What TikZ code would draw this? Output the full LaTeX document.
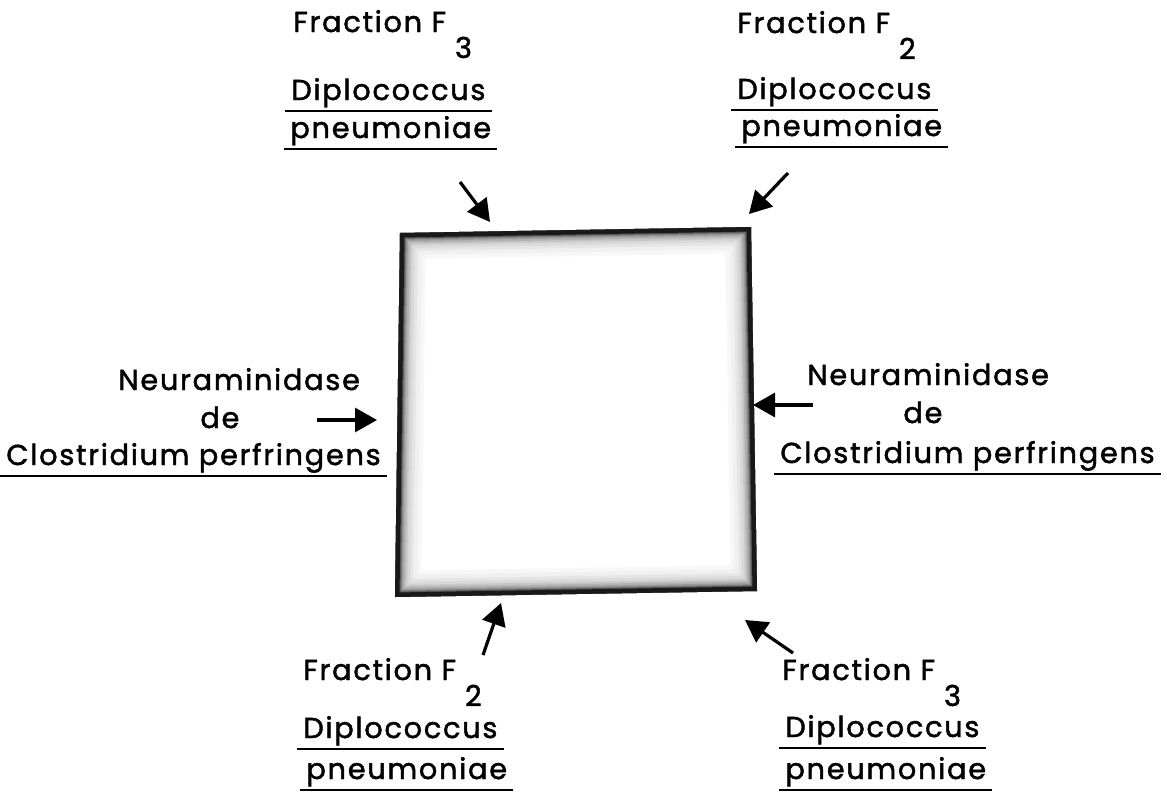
\documentclass[tikz,border=0pt]{standalone}
\usepackage{fontspec}
\setmainfont[LetterSpace=6, FakeBold=1.6]{Poppins}
\usepackage{tikz}
\usetikzlibrary{arrows.meta, positioning}

\newcommand{\fsub}[1]{\kern4.5pt\raisebox{-13pt}{#1}}

\begin{document}
\begin{tikzpicture}[x=0.5pt, y=-0.5pt, >={Triangle[length=11pt, width=12pt]}]
    \tikzstyle{lbl} = [inner sep=0pt, anchor=base west, font=\fontsize{14.4}{17}\selectfont]
    \tikzstyle{uline} = [append after command={([yshift=-1.5pt]\tikzlastnode.south west) edge[line width=1.1pt, shorten <=-3pt, shorten >=-3pt] ([yshift=-1.5pt]\tikzlastnode.south east)}]
    \tikzstyle{feed} = [->, line width=1.6pt]

    \useasboundingbox (0,0) rectangle (1167,793);

    % Corners of the square
    \coordinate (tl) at (400,233);
    \coordinate (tr) at (751,227);
    \coordinate (br) at (757,591);
    \coordinate (bl) at (395,597);

    % Square with dark shaded rim
    \begin{scope}
        \clip (tl) -- (tr) -- (br) -- (bl) -- cycle;
        \fill[white] (tl) -- (tr) -- (br) -- (bl) -- cycle;
        \foreach \w/\c in {26/3, 22/6, 18/10, 15/15, 12/22, 10/30, 8/40, 6.5/52, 5.5/65}
            \draw[line width=\w pt, black!\c] (tl) -- (tr) -- (br) -- (bl) -- cycle;
        \draw[line width=4.5pt, black!90] (tl) -- (tr) -- (br) -- (bl) -- cycle;
    \end{scope}

    % Top left
    \node (fa) [lbl] at (293,32) {Fraction F\fsub{3}};
    \node (da) [lbl, uline] at (291,100) {Diplococcus};
    \node (pa) [lbl, uline] at (290,138) {pneumoniae};

    % Top right
    \node (fb) [lbl] at (737,33) {Fraction F\fsub{2}};
    \node (db) [lbl, uline] at (737,99) {Diplococcus};
    \node (pb) [lbl, uline] at (741,136) {pneumoniae};

    % Left
    \node (na) [lbl] at (118,390) {Neuraminidase};
    \node (ea) [lbl] at (200,428) {de};
    \node (ca) [lbl, uline] at (6,465) {Clostridium perfringens};

    % Right
    \node (nb) [lbl] at (807,385) {Neuraminidase};
    \node (eb) [lbl] at (903,423) {de};
    \node (cb) [lbl, uline] at (780,463) {Clostridium perfringens};

    % Bottom left
    \node (fc) [lbl] at (303,680) {Fraction F\fsub{2}};
    \node (dc) [lbl, uline] at (303,738) {Diplococcus};
    \node (pc) [lbl, uline] at (306,779) {pneumoniae};

    % Bottom right
    \node (fd) [lbl] at (782,680) {Fraction F\fsub{3}};
    \node (dd) [lbl, uline] at (785,737) {Diplococcus};
    \node (pd) [lbl, uline] at (785,779) {pneumoniae};

    % Arrow ends
    \coordinate (ta) at (460,182);  \coordinate (ha) at (490,222);
    \coordinate (tb) at (788,173);  \coordinate (hb) at (749,214);
    \coordinate (tc) at (317,420);  \coordinate (hc) at (377,420);
    \coordinate (td) at (813,405);  \coordinate (hd) at (753,405);
    \coordinate (te) at (483,655);  \coordinate (he) at (501,603);
    \coordinate (tf) at (793,653);  \coordinate (hf) at (745,620);

    \draw[feed] (ta) -- (ha);
    \draw[feed] (tb) -- (hb);
    \draw[feed] (tc) -- (hc);
    \draw[feed] (td) -- (hd);
    \draw[feed] (te) -- (he);
    \draw[feed] (tf) -- (hf);
\end{tikzpicture}
\end{document}
